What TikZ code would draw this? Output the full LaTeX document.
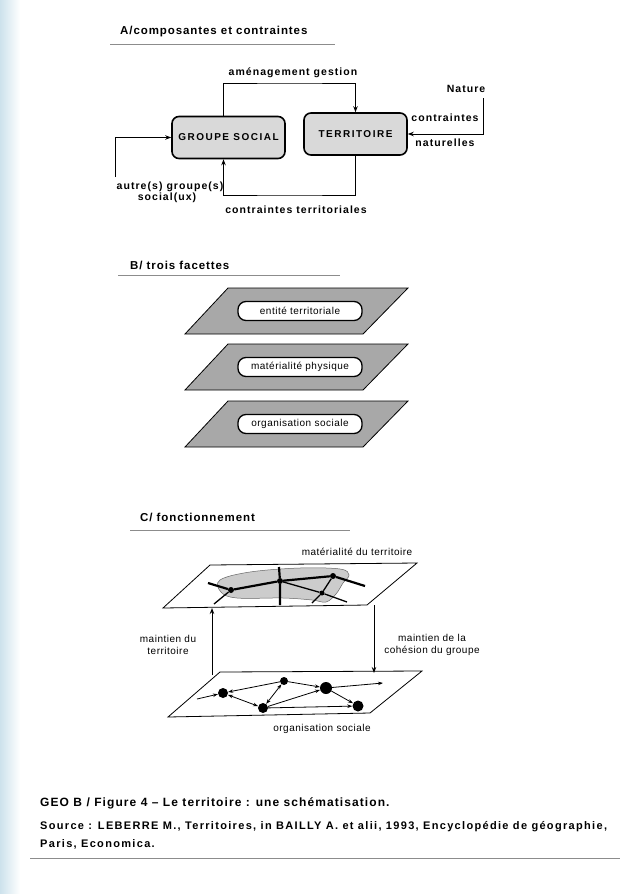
\documentclass[tikz,border=0pt]{standalone}
\usepackage{fontspec}
\setmainfont{Liberation Sans}
\usetikzlibrary{arrows.meta,positioning}
\definecolor{bleupale}{RGB}{205,226,236}
\newcommand{\espace}[1]{\addfontfeature{LetterSpace=#1}}
\begin{document}
\begin{tikzpicture}[x=1pt, y=-1pt,
  titre/.style={anchor=west, inner sep=0pt, font=\bfseries\fontsize{11.5}{13}\selectfont\espace{8}},
  lab/.style={inner sep=1pt, font=\bfseries\fontsize{10.5}{12}\selectfont\espace{10}},
  legende/.style={inner sep=1pt, align=center, font=\fontsize{10}{12}\selectfont\espace{5}},
  boite/.style={draw, line width=1.6pt, rounded corners=7pt, fill=black!15, minimum height=42pt, font=\bfseries\fontsize{10}{12}\selectfont\espace{15}},
  pilule/.style={draw, line width=1.3pt, rounded corners=8pt, fill=white, minimum width=124pt, minimum height=19pt, inner sep=1pt, font=\fontsize{10}{12}\selectfont\espace{5}},
  plan/.style={draw=black, line width=0.8pt},
  fleche/.style={black, line width=1pt, -{Stealth[length=6pt, width=4.5pt]}},
  petite/.style={black, line width=0.8pt, -{Stealth[length=5pt, width=3.5pt]}},
  double/.style={petite, {Stealth[length=5pt, width=3.5pt]}-{Stealth[length=5pt, width=3.5pt]}},
  pt/.style={circle, fill=black, inner sep=0pt, minimum size=#1},
  pt/.default=6pt,
  regle/.style={black!45, line width=0.6pt}]
\useasboundingbox (0,0) rectangle (638,894);
\shade[left color=bleupale, right color=white] (0,0) rectangle (20,894);

\node[titre] (ta) at (120,32) {A/composantes et contraintes};
\draw[regle] (110,44) -- (335,44);

\node[boite, minimum width=113pt] (gs) at (228.5,137.5) {GROUPE SOCIAL};
\node[boite, minimum width=103pt] (terr) at (355.5,134) {TERRITOIRE};

\coordinate (amg) at (290,83);
\coordinate (ctr) at (290,195);
\coordinate (nat) at (483,98);
\coordinate (autr) at (115,177);
\node[lab] (lamg) at (293,73) {aménagement gestion};
\node[lab] (lnat) at (466,89) {Nature};
\node[lab] (lc1) at (445,118) {contraintes};
\node[lab] (lc2) at (445,143) {naturelles};
\node[lab] (lau1) at (170,187) {autre(s)\hspace{4pt}groupe(s)};
\node[lab] (lau2) at (167,198) {social(ux)};
\node[lab] (lct) at (296,210) {contraintes territoriales};

\draw[fleche] ([xshift=-5pt]gs.north) |- (amg) -| (terr.north);
\draw[fleche] (terr.south) |- (ctr) -| ([xshift=-5pt]gs.south);
\draw[fleche] (nat) |- (terr.east);
\draw[fleche] (autr) |- (gs.west);

\node[titre] (tb) at (130,265) {B/ trois facettes};
\draw[regle] (118,275) -- (340,275);

\foreach \y/\t in {288/entité territoriale, 344/matérialité physique, 401/organisation sociale}{
  \filldraw[plan, fill=black!34] (228,\y) -- (408,\y) -- (363,\y+46) -- (185,\y+46) -- cycle;
  \node[pilule] (f\y) at (300,\y+23) {\t};
}

\node[titre] (tc) at (140,517) {C/ fonctionnement};
\draw[regle] (130,530) -- (350,530);

\filldraw[plan, fill=white] (210,565) -- (417,563) -- (367,605) -- (163,608) -- cycle;
\filldraw[fill=black!20, draw=black!60, line width=0.5pt] plot[smooth cycle, tension=0.6] coordinates
  {(220,580) (250,572) (300,568) (340,569) (349,575) (343,583) (336,594) (326,602) (312,600) (283,598) (237,598) (221,592)};
\node[legende] (lmat) at (357,552) {matérialité du territoire};

\node[pt] (ma) at (231,590) {};
\node[pt] (mb) at (280,581) {};
\node[pt] (mc) at (333,576) {};
\node[pt=5pt] (md) at (322,593) {};
\coordinate (mw) at (208,583);
\coordinate (me) at (365,586);
\coordinate (mn) at (279,567);
\coordinate (ms) at (280,605);
\coordinate (msw) at (214,604);
\coordinate (mse) at (347,602);
\coordinate (mss) at (312,603);
\draw[line width=2.2pt] (mw) -- (ma) -- (mb) -- (mc) -- (me);
\draw[line width=2.2pt] (mn) -- (mb) -- (ms);
\draw[line width=1.3pt] (ma) -- (msw);
\draw[line width=1.3pt] (mb) -- (md) -- (mse);
\draw[line width=1.3pt] (mc) -- (md) -- (mss);

\filldraw[plan, fill=white] (220,672) -- (422,671) -- (370,713) -- (168,717) -- cycle;
\node[legende] (lorg) at (322,729) {organisation sociale};

\coordinate (bas1) at (212,675);
\coordinate (haut1) at (212,608);
\coordinate (haut2) at (374,605);
\coordinate (bas2) at (374,673);
\draw[fleche] (bas1) -- (haut1);
\draw[fleche] (haut2) -- (bas2);
\node[legende] (lmt) at (168,645) {maintien du\\territoire};
\node[legende] (lmc) at (432,645) {maintien de la\\cohésion du groupe};

\node[pt=10pt] (n1) at (223,693) {};
\node[pt=8pt] (n2) at (284,681) {};
\node[pt=12pt] (n3) at (326,688) {};
\node[pt=10pt] (n4) at (263,708) {};
\node[pt=11pt] (n5) at (358,706) {};
\coordinate (nin) at (197,699);
\coordinate (nout) at (383,683);
\draw[petite] (nin) -- (n1);
\draw[petite] (n2) -- (n1);
\draw[double] (n1) -- (n4);
\draw[double] (n2) -- (n4);
\draw[petite] (n2) -- (n3);
\draw[petite] (n4) -- (n3);
\draw[petite] (n3) -- (nout);
\draw[petite] (n3) -- (n5);
\draw[petite] (n4) -- (n5);

\node[anchor=west, inner sep=0pt, font=\bfseries\fontsize{12}{14}\selectfont\espace{9}] (cap) at (40,803) {GEO B / Figure 4 – Le territoire : une schématisation.};
\node[anchor=west, inner sep=0pt, font=\bfseries\fontsize{11}{13}\selectfont\espace{12}] (src1) at (40,827) {Source : LEBERRE M., Territoires, in BAILLY A. et alii, 1993, Encyclopédie de géographie,};
\node[anchor=west, inner sep=0pt, font=\bfseries\fontsize{11}{13}\selectfont\espace{12}] (src2) at (40,844) {Paris, Economica.};
\draw[regle] (30,858) -- (620,858);
\end{tikzpicture}
\end{document}
